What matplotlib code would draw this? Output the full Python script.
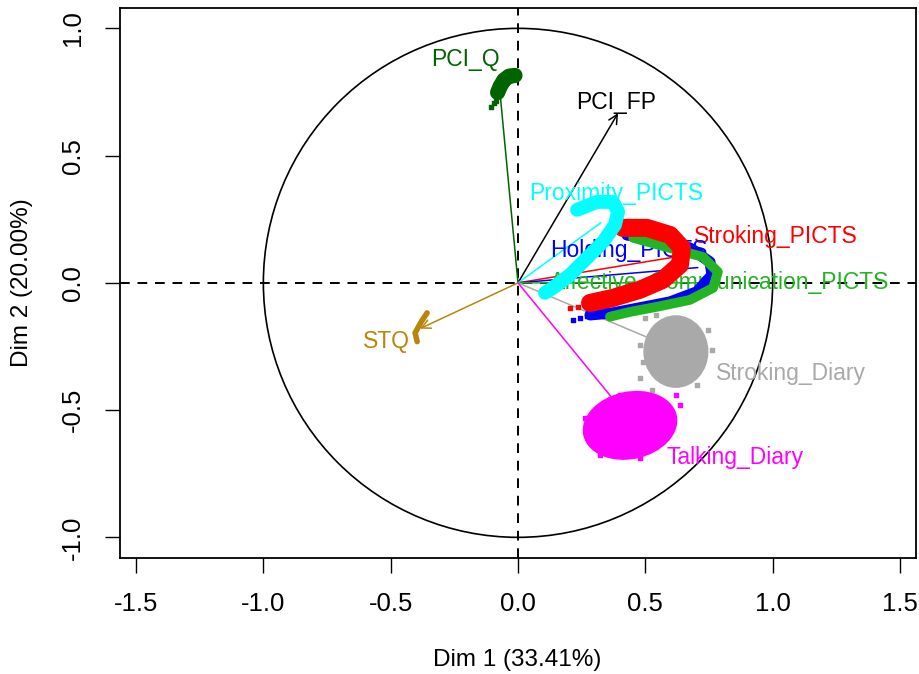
import numpy as np
import matplotlib
matplotlib.use("Agg")
import matplotlib.pyplot as plt
from matplotlib.patches import Ellipse, Circle

plt.rcParams['font.family'] = ['Liberation Sans', 'DejaVu Sans']

# ---------------- data ----------------
variables = ["PCI_Q", "PCI_FP", "Proximity_PICTS", "Stroking_PICTS", "Holding_PICTS",
             "Affective_Communication_PICTS", "STQ", "Stroking_Diary", "Talking_Diary"]
colors = ["#006400", "black", "cyan", "red", "blue", "#22B422", "#B8860B", "#A9A9A9", "magenta"]
arrow_head = [False, True, False, False, False, False, True, False, False]
# point estimate (arrow end) coordinates
vec_x = [-0.07, 0.393, 0.325, 0.667, 0.706, 0.72, -0.385, 0.56, 0.376]
vec_y = [0.74, 0.667, 0.236, 0.11, 0.06, 0.0, -0.18, -0.236, -0.46]
# label positions
lab_x = [-0.208, 0.385, 0.385, 1.013, 0.436, 0.793, -0.518, 1.072, 0.852]
lab_y = [0.876, 0.707, 0.353, 0.181, 0.126, 0.0, -0.232, -0.357, -0.687]

# resampled clouds, crescent-shaped ones given by their centre line
cloud_cyan_x = [0.232, 0.310, 0.373, 0.393, 0.381, 0.334, 0.271, 0.204, 0.137, 0.106]
cloud_cyan_y = [0.287, 0.318, 0.318, 0.279, 0.228, 0.161, 0.098, 0.031, -0.020, -0.039]
cloud_blue_x = [0.428, 0.546, 0.675, 0.754, 0.762, 0.703, 0.597, 0.479, 0.373, 0.283]
cloud_blue_y = [0.188, 0.169, 0.137, 0.082, 0.031, -0.035, -0.075, -0.098, -0.118, -0.126]
cloud_green_x = [0.452, 0.597, 0.726, 0.785, 0.766, 0.675, 0.546, 0.440, 0.361]
cloud_green_y = [0.177, 0.137, 0.102, 0.043, -0.020, -0.067, -0.094, -0.114, -0.133]
cloud_red_x = [0.412, 0.506, 0.597, 0.644, 0.636, 0.569, 0.479, 0.373, 0.283]
cloud_red_y = [0.216, 0.216, 0.188, 0.137, 0.071, 0.012, -0.027, -0.059, -0.079]
cloud_pciq_x = [-0.012, -0.035, -0.055, -0.07, -0.08]
cloud_pciq_y = [0.815, 0.812, 0.797, 0.772, 0.748]
cloud_stq_x = [-0.357, -0.38, -0.404, -0.396]
cloud_stq_y = [-0.118, -0.153, -0.196, -0.231]

tail_red_x = [0.263, 0.236, 0.204]
tail_red_y = [-0.086, -0.094, -0.098]
tail_blue_x = [0.271, 0.243, 0.216]
tail_blue_y = [-0.13, -0.137, -0.145]
tail_pciq_x = [-0.095, -0.105, -0.085]
tail_pciq_y = [0.705, 0.69, 0.715]

# elliptical clouds: centre, width, height, angle
gray_cloud = (0.62, -0.27, 0.25, 0.28, 0)
mag_cloud = (0.44, -0.56, 0.37, 0.26, 12)
gray_out_x = [0.50, 0.54, 0.48, 0.49, 0.48, 0.526, 0.746, 0.762, 0.703]
gray_out_y = [-0.137, -0.126, -0.243, -0.31, -0.373, -0.42, -0.185, -0.263, -0.40]
mag_out_x = [0.263, 0.283, 0.322, 0.636, 0.62, 0.40, 0.479]
mag_out_y = [-0.53, -0.616, -0.675, -0.479, -0.44, -0.44, -0.687]

xticks = [-1.5, -1.0, -0.5, 0.0, 0.5, 1.0, 1.5]
yticks = [-1.0, -0.5, 0.0, 0.5, 1.0]
xlabel = "Dim 1 (33.41%)"
ylabel = "Dim 2 (20.00%)"

# ---------------- figure ----------------
fig = plt.figure(figsize=(9.2, 6.74), dpi=100)
ax = fig.add_axes([120 / 920, (674 - 557.7) / 674, 796 / 920, 549.7 / 674])
ax.set_xlim(-1.563, 1.563)
ax.set_ylim(-1.08, 1.08)

ax.axhline(0, color="black", lw=1.4, ls=(0, (5, 4)), zorder=1)
ax.axvline(0, color="black", lw=1.4, ls=(0, (5, 4)), zorder=1)
ax.add_patch(Circle((0, 0), 1.0, fill=False, ec="black", lw=1.2, zorder=1))

for i, v in enumerate(variables):
    ax.annotate("", xy=(vec_x[i], vec_y[i]), xytext=(0, 0),
                arrowprops=dict(arrowstyle="->" if arrow_head[i] else "-",
                                color=colors[i], lw=1.1,
                                mutation_scale=16, shrinkA=0, shrinkB=0),
                zorder=2)

for i, v in enumerate(variables):
    ax.text(lab_x[i], lab_y[i], v, color=colors[i], fontsize=16.5,
            ha="center", va="center", zorder=2.5)

# clouds
def band(xs, ys, c, w):
    ax.plot(xs, ys, color=c, lw=w, solid_capstyle="round", solid_joinstyle="round", zorder=3)

band(cloud_blue_x, cloud_blue_y, "blue", 8)
band(cloud_green_x, cloud_green_y, "#22B422", 7)
band(cloud_red_x, cloud_red_y, "red", 13)
band(cloud_cyan_x, cloud_cyan_y, "cyan", 10)
band(cloud_pciq_x, cloud_pciq_y, "#006400", 11)
band(cloud_stq_x, cloud_stq_y, "#B8860B", 4)
ax.scatter(tail_red_x, tail_red_y, s=6, color="red", marker="s", zorder=3)
ax.scatter(tail_blue_x, tail_blue_y, s=6, color="blue", marker="s", zorder=3)
ax.scatter(tail_pciq_x, tail_pciq_y, s=6, color="#006400", marker="s", zorder=3)

for (cx, cy, w, h, a), c, ox, oy in [(gray_cloud, "#A9A9A9", gray_out_x, gray_out_y),
                                     (mag_cloud, "magenta", mag_out_x, mag_out_y)]:
    ax.add_patch(Ellipse((cx, cy), w, h, angle=a, color=c, zorder=3))
    ax.scatter(ox, oy, s=7, color=c, marker="s", zorder=3)

ax.set_xticks(xticks)
ax.set_yticks(yticks)
ax.set_xticklabels([f"{t:.1f}" for t in xticks])
ax.set_yticklabels([f"{t:.1f}" for t in yticks], rotation=90, va="center")
ax.tick_params(length=11, width=1, labelsize=18.5, pad=14)
for s in ax.spines.values():
    s.set_linewidth(1.3)

fig.text(517 / 920, 1 - 660 / 674, xlabel, ha="center", va="center", fontsize=17.5)
fig.text(22 / 920, 1 - 283 / 674, ylabel, ha="center", va="center", fontsize=17.5, rotation=90)

fig.savefig("out.png", dpi=100)
